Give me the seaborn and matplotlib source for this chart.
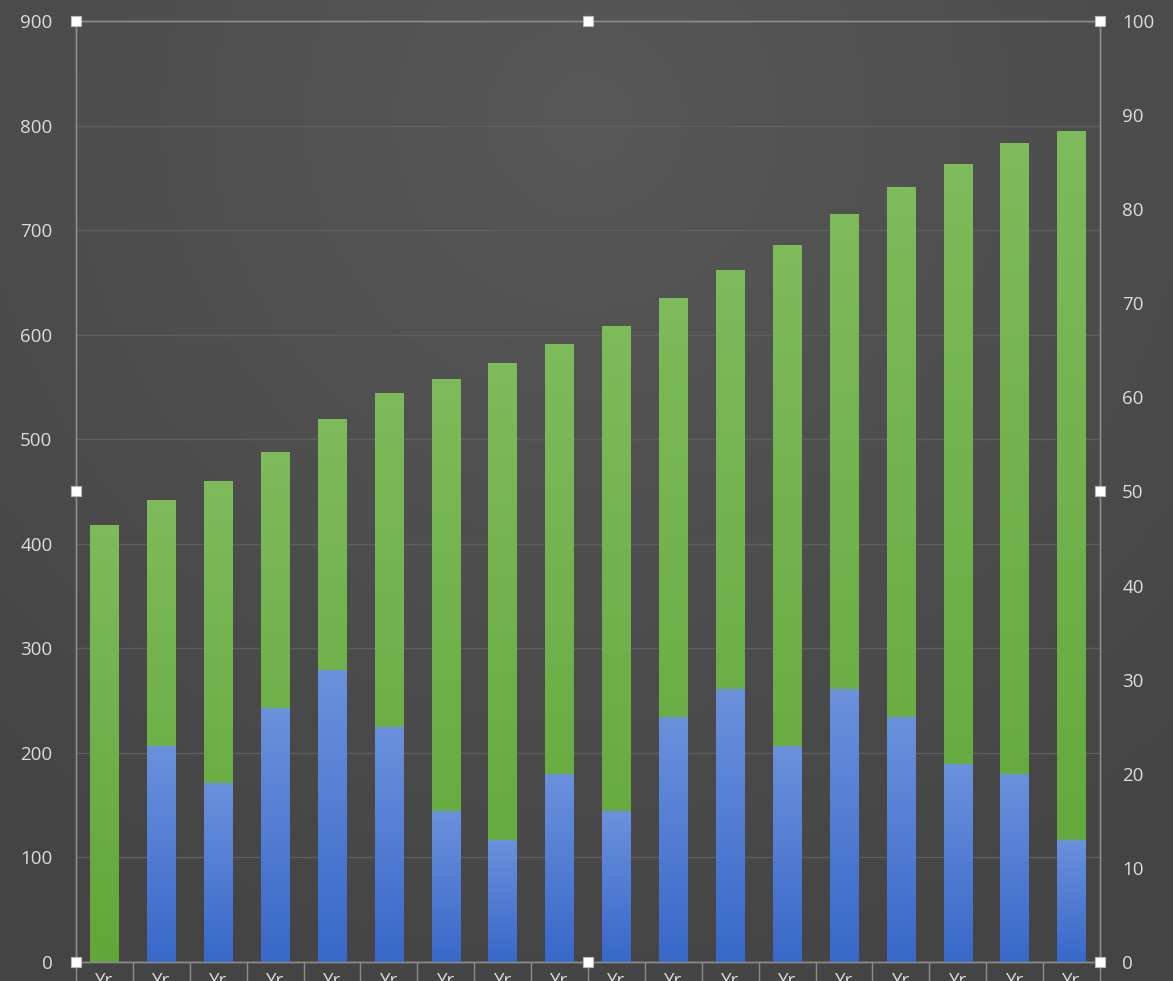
import numpy as np
import pandas as pd
import matplotlib
matplotlib.use("Agg")
import matplotlib.pyplot as plt
import seaborn as sns
from matplotlib.colors import LinearSegmentedColormap
import matplotlib.patheffects as pe

# ---- data ----
years = [f"Yr\n{i}" for i in range(1, 19)]
total_values = [418, 442, 460, 488, 519, 544, 558, 573, 591,
                608, 635, 662, 686, 715, 741, 763, 783, 795]
share_values = [0, 23, 19, 27, 31, 25, 16, 13, 20,
                16, 26, 29, 23, 29, 26, 21, 20, 13]
left_ticks = list(range(0, 901, 100))
right_ticks = list(range(0, 101, 10))

sns.set_theme(style="dark")
plt.rcParams["font.family"] = ["Open Sans", "DejaVu Sans"]

TXT = "#dcdcdc"
AXC = "#8c8c8c"

fig = plt.figure(figsize=(11.73, 9.81), dpi=100)

# background radial gradient
bg = fig.add_axes([0, 0, 1, 1], zorder=-10)
yy, xx = np.mgrid[0:1:300j, 0:1:300j]
r = np.sqrt(((xx - 0.5) / 0.8) ** 2 + ((yy - 0.12) / 0.95) ** 2)
r = np.clip(r, 0, 1)
bgcmap = LinearSegmentedColormap.from_list("bg", ["#585858", "#444444"])
bg.imshow(r, cmap=bgcmap, extent=(0, 1, 0, 1), aspect="auto", origin="upper",
          interpolation="bilinear")
bg.axis("off")

ax = fig.add_axes([76 / 1173, 19 / 981, 1024 / 1173, 941 / 981])
ax.set_facecolor("none")
df = pd.DataFrame({"year": years, "total": total_values, "share": share_values})

sns.barplot(data=df, x="year", y="total", color="#6fb04a", width=0.5,
            saturation=1, ax=ax, zorder=2, linewidth=0, edgecolor="none")
ax2 = ax.twinx()
sns.barplot(data=df, x="year", y="share", color="#4f7fd6", width=0.5,
            saturation=1, ax=ax2, zorder=2, linewidth=0, edgecolor="none")


def gradient(a, patch, top_c, bot_c):
    x0 = patch.get_x()
    w = patch.get_width()
    h = patch.get_height()
    patch.set_edgecolor("none")
    patch.set_linewidth(0)
    if h <= 0:
        patch.set_visible(False)
        return
    cmap = LinearSegmentedColormap.from_list("g", [bot_c, top_c])
    img = a.imshow(np.linspace(0, 1, 256).reshape(-1, 1),
                   extent=(x0, x0 + w, 0, h), origin="lower", cmap=cmap,
                   aspect="auto", zorder=patch.get_zorder() + 0.1,
                   interpolation="bilinear")
    img.set_clip_path(patch)
    patch.set_path_effects([pe.withSimplePatchShadow(offset=(0, 0),
                            shadow_rgbFace="#1a1a1a", alpha=0.35, rho=0.5),
                            pe.Normal()])


for p in ax.patches:
    gradient(ax, p, "#7ebb5b", "#60a738")
for p in ax2.patches:
    gradient(ax2, p, "#6b91dc", "#3868c9")

ax.set_xlim(-0.5, 17.5)
ax.set_ylim(0, 900)
ax2.set_ylim(0, 100)

ax.set_yticks(left_ticks)
ax2.set_yticks(right_ticks)
ax.yaxis.grid(True, color="#5f5f5f", lw=1)
ax.xaxis.grid(False)
ax2.grid(False)
ax.set_axisbelow(True)

ax.tick_params(axis="y", length=0, pad=17, labelcolor=TXT, labelsize=13.5)
ax2.tick_params(axis="y", length=0, pad=16, labelcolor=TXT, labelsize=13.5)

ax.set_xticks(range(len(years)))
ax.set_xticklabels(years, linespacing=1.0)
ax.tick_params(axis="x", which="major", length=0, pad=7, labelcolor=TXT,
               labelsize=13.5)
ax.set_xticks(np.arange(-0.5, len(years), 1), minor=True)
ax.tick_params(axis="x", which="minor", bottom=True, length=19, width=1,
               color=AXC, direction="out")
ax2.tick_params(axis="x", length=0, labelbottom=False)

for a in (ax, ax2):
    a.set_xlabel("")
    a.set_ylabel("")
    for s in a.spines.values():
        s.set_visible(True)
        s.set_color(AXC)
        s.set_linewidth(1)

# selection handles
ax2.plot([0, 0.5, 1, 0, 1, 0, 0.5, 1], [0, 0, 0, 0.5, 0.5, 1, 1, 1], "s",
         ms=7, mfc="white", mec="#bbbbbb", mew=0.8, transform=ax2.transAxes,
         clip_on=False, zorder=10)

fig.savefig("out.png", dpi=100)
